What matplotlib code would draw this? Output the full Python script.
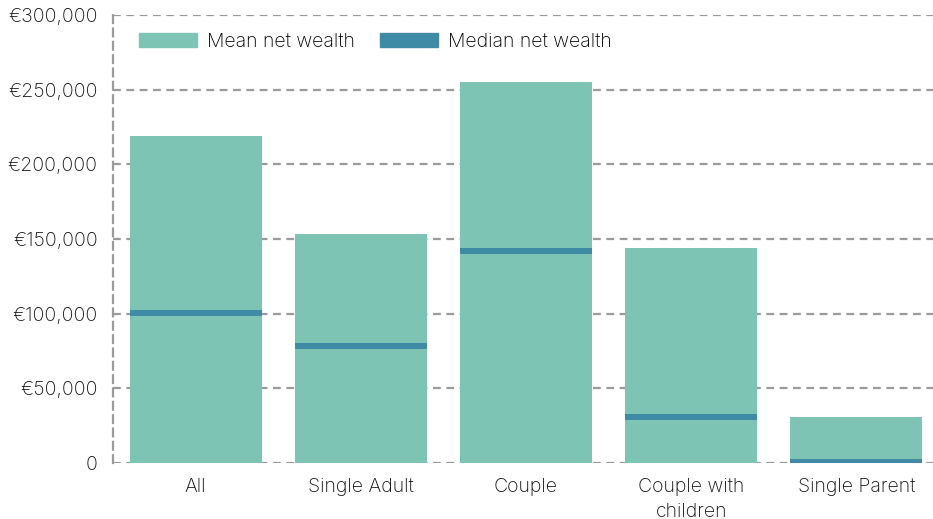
import numpy as np
import matplotlib.pyplot as plt
from matplotlib.patches import Patch
from matplotlib.ticker import FuncFormatter

# Data
categories = ["All", "Single Adult", "Couple", "Couple with\nchildren", "Single Parent"]
mean_wealth = [219000, 153500, 255000, 144000, 31000]
median_wealth = [100500, 78500, 142000, 31000, 500]

mean_color = "#7ec4b5"
median_color = "#3f8ba5"
grid_color = "#9a9a9c"

plt.rcParams['font.family'] = ['Inter', 'DejaVu Sans']
plt.rcParams['font.weight'] = 'light'

fig = plt.figure(figsize=(9.33, 5.19), dpi=100)
ax = fig.add_axes([113 / 933, 56 / 519, 826 / 933, 448 / 519])

x = np.arange(len(categories))
width = 0.8

ax.bar(x, mean_wealth, width=width, color=mean_color, zorder=2)
ax.hlines(median_wealth, x - width / 2, x + width / 2, color=median_color, lw=4.3, zorder=3)

ax.set_xlim(-0.5, len(categories) - 0.5)
ax.set_ylim(0, 300000)
ax.set_yticks(np.arange(0, 300001, 50000))
ax.yaxis.set_major_formatter(FuncFormatter(lambda v, p: "0" if v == 0 else f"€{v:,.0f}"))
ax.set_xticks(x)
ax.set_xticklabels(categories, linespacing=1.45)

ax.grid(axis='y', color=grid_color, linestyle=(0, (3.5, 2.5)), lw=1.6, zorder=1)
for s in ['top', 'right', 'bottom']:
    ax.spines[s].set_visible(False)
ax.spines['left'].set_color(grid_color)
ax.spines['left'].set_linewidth(1.6)
ax.spines['left'].set_linestyle((0, (3.5, 2.5)))

ax.tick_params(axis='both', length=0, labelsize=14, labelcolor="#111111")
ax.tick_params(axis='y', pad=11)
ax.tick_params(axis='x', pad=11)

handles = [Patch(color=mean_color, label="Mean net wealth"),
           Patch(color=median_color, label="Median net wealth")]
ax.legend(handles=handles, loc='upper left', bbox_to_anchor=(0.01, 1.0), ncol=2,
          frameon=False, fontsize=14, handlelength=3.0, handleheight=0.7,
          handletextpad=0.5, columnspacing=1.3)

fig.savefig("out.png", dpi=100)
